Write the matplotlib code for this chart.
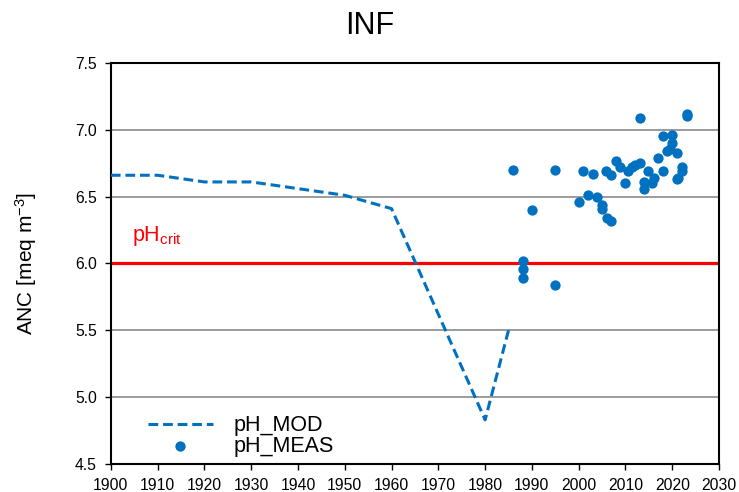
import matplotlib
matplotlib.use("Agg")
import matplotlib.pyplot as plt

plt.rcParams['font.family'] = ['Liberation Sans', 'DejaVu Sans']
plt.rcParams['mathtext.default'] = 'regular'
plt.rcParams['lines.scale_dashes'] = False

# Modelled pH (piecewise trend)
mod_years = [1900, 1910, 1920, 1930, 1950, 1960, 1980, 1985]
mod_values = [6.66, 6.66, 6.61, 6.61, 6.51, 6.41, 4.83, 5.50]

# Measured pH
meas_years = [1986, 1988, 1988, 1988, 1990, 1995, 1995, 2000, 2001, 2002, 2003,
              2004, 2004.9, 2004.9, 2006, 2007, 2005.8, 2006.8, 2008, 2008.8,
              2009.9, 2010.6, 2011.3, 2012, 2013, 2013, 2013.9, 2013.9, 2014.9,
              2015.6, 2016, 2017, 2018, 2018, 2018.9, 2019.6, 2019.9, 2020,
              2021, 2021, 2021.3, 2022, 2022, 2023.1, 2023.1]
meas_values = [6.70, 6.02, 5.96, 5.89, 6.40, 6.70, 5.84, 6.46, 6.69, 6.51, 6.67,
               6.50, 6.44, 6.41, 6.34, 6.32, 6.69, 6.66, 6.77, 6.72,
               6.60, 6.69, 6.72, 6.74, 6.75, 7.09, 6.61, 6.555, 6.69,
               6.60, 6.64, 6.79, 6.95, 6.69, 6.84, 6.86, 6.90, 6.96,
               6.83, 6.63, 6.64, 6.72, 6.69, 7.12, 7.10]

ph_crit = 6.0
x_ticks = list(range(1900, 2031, 10))
y_ticks = [4.5, 5.0, 5.5, 6.0, 6.5, 7.0, 7.5]

blue = '#0070C0'

fig = plt.figure(figsize=(7.39, 4.92), dpi=100)
ax = fig.add_axes([0.150, 0.057, 0.823, 0.815])

for y in y_ticks:
    ax.axhline(y, color='#808080', lw=1.1, zorder=1)
ax.axhline(ph_crit, color='#FF0000', lw=2.3, zorder=2)

ax.plot(mod_years, mod_values, color=blue, lw=2.2, dashes=(7, 3.5),
        label='pH_MOD', zorder=3)
ax.scatter(meas_years, meas_values, s=55, color=blue, label='pH_MEAS',
           zorder=4, linewidths=0)

ax.text(1904.5, 6.17, 'pH$_{crit}$', color='#FF0000', fontsize=15.5)

ax.set_xlim(1900, 2030)
ax.set_ylim(4.5, 7.5)
ax.set_xticks(x_ticks)
ax.set_yticks(y_ticks)
ax.set_yticklabels([f'{v:.1f}' for v in y_ticks])
ax.tick_params(labelsize=11.3, length=4, width=1, pad=6, direction='out',
               colors='black')
for s in ax.spines.values():
    s.set_linewidth(1.5)
    s.set_color('black')

ax.set_ylabel('ANC [meq m$^{-3}$]', fontsize=15)
ax.yaxis.set_label_coords(-0.118, 0.5)
fig.text(0.5, 0.93, 'INF', fontsize=22, ha='center', va='baseline')

leg = ax.legend(loc='lower left', bbox_to_anchor=(0.061, 0.017), frameon=False,
                fontsize=15.5, handlelength=3.0, handletextpad=1.0,
                labelspacing=0.0, borderpad=0, borderaxespad=0)

fig.savefig('out.png', dpi=100)
